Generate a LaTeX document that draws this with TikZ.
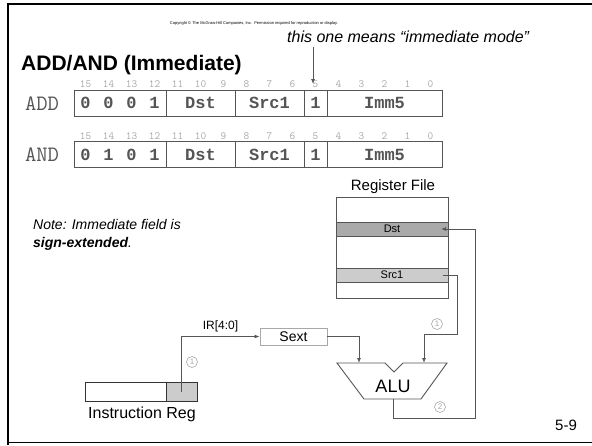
\documentclass[tikz,border=0pt]{standalone}
\usepackage{fontspec}
\setmainfont{Liberation Sans}
\newfontfamily\codefont{Liberation Mono}
\usetikzlibrary{arrows.meta, positioning, shapes}

\definecolor{linegray}{HTML}{555555}
\definecolor{softgray}{HTML}{A8A8A8}
\definecolor{dstfill}{HTML}{AAAAAA}
\definecolor{srcfill}{HTML}{CCCCCC}

\newcommand{\bitcell}[1]{\makebox[23pt]{#1}}

\begin{document}
\begin{tikzpicture}[
    x=1pt, y=-1pt,
    field/.style={rectangle, draw=linegray, line width=0.9pt, minimum height=26pt, inner sep=0pt, outer sep=0pt, text=linegray, font=\codefont\bfseries\fontsize{17}{17}\selectfont},
    bitnum/.style={text=softgray, inner sep=0pt, font=\ttfamily\fontsize{11}{11}\selectfont},
    oplabel/.style={text=linegray, inner sep=0pt, font=\ttfamily\fontsize{22}{22}\selectfont},
    regrow/.style={rectangle, draw=linegray, line width=0.8pt, minimum width=112pt, minimum height=14pt, inner sep=0pt, outer sep=0pt, font=\fontsize{11}{11}\selectfont},
    wire/.style={draw=linegray, line width=0.9pt},
    arrow/.style={wire, -{Latex[length=5pt, width=4pt]}},
    phase/.style={circle, draw=softgray, line width=0.6pt, minimum size=11pt, inner sep=0pt, text=softgray, font=\fontsize{8}{8}\selectfont}
]
\useasboundingbox (0,0) rectangle (592,445);

% slide frame
\draw[line width=2.5pt] (8,445) -- (8,4) -- (592,4);
\draw[line width=1.5pt] (8,442.5) -- (592,442.5);

\node (copyright) at (254,23) {\fontsize{4}{4}\selectfont Copyright \textcopyright{} The McGraw-Hill Companies, Inc.\ \ Permission required for reproduction or display.};
\node[anchor=base west, inner sep=0pt] (title) at (21,70) {\fontsize{21}{21}\selectfont\bfseries ADD/AND (Immediate)};
\node[anchor=base west, inner sep=0pt] (remark) at (287,42) {\fontsize{16}{16}\selectfont\itshape this one means \textquotedblleft immediate mode\textquotedblright};

% ADD format
\node[oplabel] (addname) at (42,104) {ADD};
\node[field, minimum width=92pt, anchor=west] (addop) at (74,103) {\bitcell0\bitcell0\bitcell0\bitcell1};
\node[field, minimum width=69pt, right=0pt of addop] (adddst) {Dst};
\node[field, minimum width=69pt, right=0pt of adddst] (addsrc) {Src1};
\node[field, minimum width=23pt, right=0pt of addsrc] (addmode) {1};
\node[field, minimum width=115pt, right=0pt of addmode] (addimm) {Imm5};

% AND format
\node[oplabel] (andname) at (42,155) {AND};
\node[field, minimum width=92pt, anchor=west] (andop) at (74,154.5) {\bitcell0\bitcell1\bitcell0\bitcell1};
\node[field, minimum width=69pt, right=0pt of andop] (anddst) {Dst};
\node[field, minimum width=69pt, right=0pt of anddst] (andsrc) {Src1};
\node[field, minimum width=23pt, right=0pt of andsrc] (andmode) {1};
\node[field, minimum width=115pt, right=0pt of andmode] (andimm) {Imm5};

% bit numbers
\foreach \b in {0,...,15} {
    \node[bitnum] at ({85.5+23*(15-\b)},84) {\b};
    \node[bitnum] at ({85.5+23*(15-\b)},136) {\b};
}

\coordinate (remarktip) at (313,84);
\draw[arrow] (313,47) -- (remarktip);

% note
\node[anchor=base west, inner sep=0pt, align=left, font=\fontsize{14}{18}\selectfont\itshape] (note) at (33,247) {Note: Immediate field is\\\textbf{sign-extended}.};

% register file
\node (regtitle) at (393,187) {\fontsize{15}{15}\selectfont Register File};
\draw[linegray, line width=0.9pt] (336,197) rectangle (448,298);
\node[regrow, fill=dstfill] (dst) at (392,229) {Dst};
\node[regrow, fill=srcfill] (src1) at (392,275) {Src1};

% instruction register
\node[rectangle, draw=black!80, line width=0.9pt, minimum width=81pt, minimum height=19pt, inner sep=0pt, outer sep=0pt, anchor=west] (irhigh) at (85,391.5) {};
\node[rectangle, draw=black!80, fill=srcfill, line width=0.9pt, minimum width=31pt, minimum height=19pt, inner sep=0pt, outer sep=0pt, right=0pt of irhigh] (irlow) {};
\node (irname) at (142,414) {\fontsize{16}{16}\selectfont Instruction Reg};

% sign extension
\node[rectangle, draw=softgray, line width=0.8pt, minimum width=67pt, minimum height=17pt, inner sep=0pt] (sext) at (293.5,336.5) {\fontsize{14}{14}\selectfont Sext};

% ALU
\draw[linegray, line width=0.9pt] (337,363) -- (385,363) -- (394,372) -- (403,363) -- (447,363) -- (421,399) -- (364,399) -- cycle;
\node (alu) at (393,386) {\fontsize{18}{18}\selectfont ALU};
\coordinate (alua) at (359,363);
\coordinate (alub) at (424,363);
\coordinate (aluout) at (393,399);

% connectors
\draw[arrow] (irlow.center) |- (sext.west) node[pos=0.75, above=1pt, text=black, font=\fontsize{12}{12}\selectfont] {IR[4:0]};
\draw[arrow] (sext.east) -| (alua);
\coordinate (srctap) at (443,275);
\coordinate (srcbend) at (457,334);
\draw[arrow] (srctap) -| (srcbend) -| (alub);
\coordinate (dsttap) at (441,229);
\coordinate (loopcorner) at (475,418);
\draw[arrow] (aluout) |- (loopcorner) |- (dsttap);

\node[phase] (markir) at (192,362) {1};
\node[phase] (marksrc) at (437,324) {1};
\node[phase] (markout) at (440,407) {2};

\node (slideno) at (566,425) {\fontsize{15}{15}\selectfont 5-9};

\end{tikzpicture}
\end{document}
